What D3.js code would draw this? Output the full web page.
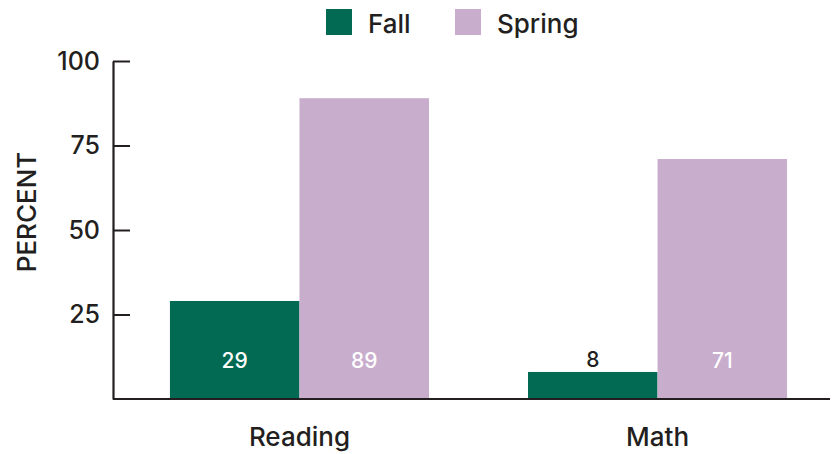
<!DOCTYPE html>
<html>
<head>
<meta charset="utf-8">
<script src="https://cdn.jsdelivr.net/npm/d3@7"></script>
<style>
  body { margin: 0; background: #fff; }
  svg text { font-family: Inter, "Open Sans", sans-serif; fill: #231f20; }
</style>
</head>
<body>
<svg id="chart" width="836" height="454"></svg>
<script>
// data
const subjects = ['Reading', 'Math'];
const seasons = ['Fall', 'Spring'];
const fallValues = [29, 8];
const springValues = [89, 71];
const yTicks = [25, 50, 75, 100];

const colours = { Fall: '#026a53', Spring: '#c9adcd' };
const ink = '#231f20';

const svg = d3.select('#chart');
const margin = { left: 113, top: 61, bottom: 55 };
const height = +svg.attr('height');
const innerHeight = height - margin.top - margin.bottom;

const rows = subjects.map((s, i) => ({
  subject: s,
  Fall: fallValues[i],
  Spring: springValues[i]
}));

// scales
const x0 = d3.scaleBand()
  .domain(subjects)
  .range([0, 731])
  .paddingInner(0.2765)
  .paddingOuter(0.159);

const x1 = d3.scaleBand()
  .domain(seasons)
  .range([0, x0.bandwidth()]);

const yScale = d3.scaleLinear()
  .domain([0, 100])
  .range([innerHeight, 0]);

const chart = svg.append('g')
  .attr('transform', `translate(${margin.left},${margin.top})`);

// bars
const groups = chart.selectAll('.group').data(rows)
  .join('g')
    .attr('class', 'group')
    .attr('transform', d => `translate(${x0(d.subject)},0)`);

groups.selectAll('rect')
  .data(d => seasons.map(k => ({ key: k, value: d[k] })))
  .join('rect')
    .attr('x', d => x1(d.key))
    .attr('y', d => yScale(d.value))
    .attr('width', x1.bandwidth())
    .attr('height', d => innerHeight - yScale(d.value))
    .attr('fill', d => colours[d.key]);

// value labels: inside near the base, or above when the bar is short
groups.selectAll('.value')
  .data(d => seasons.map(k => ({ key: k, value: d[k] })))
  .join('text')
    .attr('class', 'value')
    .attr('x', d => x1(d.key) + x1.bandwidth() / 2)
    .attr('y', d => {
      const h = innerHeight - yScale(d.value);
      return h > 40 ? innerHeight - 31 : yScale(d.value) - 5;
    })
    .attr('text-anchor', 'middle')
    .style('font-size', '21px')
    .style('font-weight', 500)
    .style('fill', d => (innerHeight - yScale(d.value)) > 40 ? '#fff' : ink)
    .text(d => d.value);

// y axis, ticks pointing into the plot
const yAxis = d3.axisLeft(yScale)
  .tickValues(yTicks)
  .tickSize(-17)
  .tickSizeOuter(0)
  .tickPadding(13);

const yAxisG = chart.append('g').call(yAxis);
yAxisG.attr('font-family', null).attr('font-size', null);
yAxisG.select('.domain').attr('stroke', ink).attr('stroke-width', 2.2);
yAxisG.selectAll('.tick line').attr('stroke', ink).attr('stroke-width', 2);
yAxisG.selectAll('.tick text')
  .style('font-size', '25px')
  .style('font-weight', 500)
  .attr('fill', ink);

// baseline
chart.append('line')
  .attr('x1', 0)
  .attr('x2', 717)
  .attr('y1', innerHeight)
  .attr('y2', innerHeight)
  .attr('stroke', ink)
  .attr('stroke-width', 2.2);

// category labels
chart.selectAll('.cat').data(subjects)
  .join('text')
    .attr('class', 'cat')
    .attr('x', d => x0(d) + x0.bandwidth() / 2)
    .attr('y', innerHeight + 47)
    .attr('text-anchor', 'middle')
    .style('font-size', '26px')
    .style('font-weight', 500)
    .text(d => d);

// y title
svg.append('text')
  .attr('transform', 'translate(36,212) rotate(-90)')
  .attr('text-anchor', 'middle')
  .style('font-size', '26px')
  .style('font-weight', 500)
  .text('PERCENT');

// legend
const legendX = [326, 455];
const legend = svg.selectAll('.legend').data(seasons)
  .join('g')
    .attr('class', 'legend')
    .attr('transform', (d, i) => `translate(${legendX[i]},9)`);

legend.append('rect')
  .attr('width', 26)
  .attr('height', 26)
  .attr('fill', d => colours[d]);

legend.append('text')
  .attr('x', 42)
  .attr('y', 24)
  .style('font-size', '26px')
  .style('font-weight', 500)
  .text(d => d);
</script>
</body>
</html>
